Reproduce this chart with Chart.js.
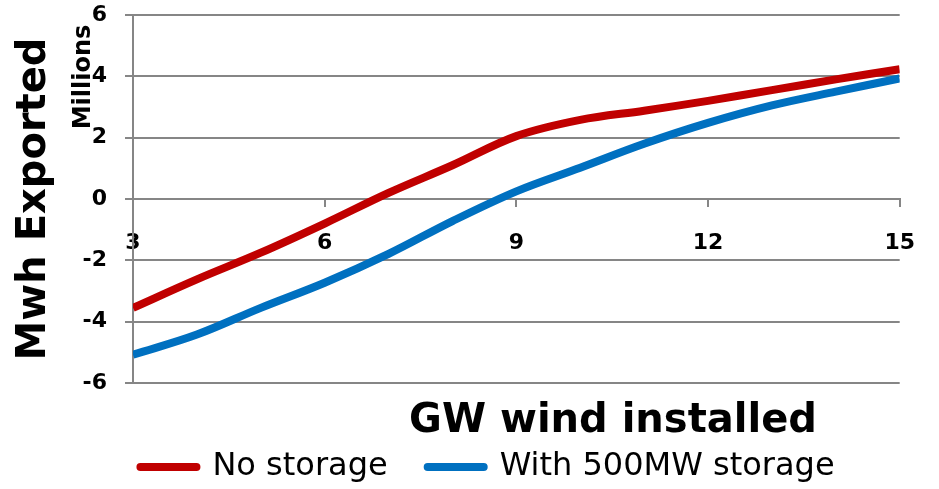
<!DOCTYPE html>
<html>
<head>
<meta charset="utf-8">
<title>Mwh Exported vs GW wind installed</title>
<script src="https://cdn.jsdelivr.net/npm/chart.js@4.4.1/dist/chart.umd.min.js"></script>
<style>
    html, body { margin: 0; padding: 0; background: #fff; }
    #wrap { width: 939px; height: 489px; position: relative; }
</style>
</head>
<body>
<div id="wrap"><canvas id="exportChart"></canvas></div>
<script>
// GW of wind installed (x)
const windGW = [3, 4, 5, 6, 7, 8, 9, 10, 11, 12, 13, 14, 15];
// MWh exported, in millions
const noStorage = [-3.55, -2.62, -1.75, -0.8, 0.2, 1.1, 2.05, 2.58, 2.88, 3.2, 3.55, 3.9, 4.23];
const withStorage = [-5.08, -4.42, -3.55, -2.73, -1.79, -0.72, 0.25, 1.02, 1.8, 2.48, 3.05, 3.5, 3.93];

const seriesNames = ['No storage', 'With 500MW storage'];
const xTicks = [3, 6, 9, 12, 15];
const yTicks = [-6, -4, -2, 0, 2, 4, 6];
const xTitle = 'GW wind installed';
const yTitle = 'Mwh Exported';
const unitsText = 'Millions';

const FONT = '"DejaVu Sans", "Noto Sans", sans-serif';
const GRID = '#868686';

// texts that Excel places freely: x title and the display-units label
const extraLabels = {
    id: 'extraLabels',
    afterDraw(chart) {
        const { ctx, chartArea } = chart;
        ctx.save();
        ctx.fillStyle = '#000';
        ctx.textAlign = 'center';
        ctx.textBaseline = 'middle';
        ctx.font = 'bold 40px ' + FONT;
        ctx.fillText(xTitle, 613, chartArea.bottom + 39);

        ctx.translate(chartArea.left - 49, chartArea.top + 62);
        ctx.rotate(-Math.PI / 2);
        ctx.font = 'bold 24px ' + FONT;
        ctx.fillText(unitsText, 0, 0);
        ctx.restore();
    }
};

const toPoints = ys => windGW.map((x, i) => ({ x: x, y: ys[i] }));

new Chart(document.getElementById('exportChart'), {
    type: 'line',
    data: {
        datasets: [{
            label: seriesNames[0],
            data: toPoints(noStorage),
            borderColor: '#C00000',
            backgroundColor: '#C00000',
            borderWidth: 8,
            pointRadius: 0,
            tension: 0.35,
            fill: false
        }, {
            label: seriesNames[1],
            data: toPoints(withStorage),
            borderColor: '#0070C0',
            backgroundColor: '#0070C0',
            borderWidth: 8,
            pointRadius: 0,
            tension: 0.35,
            fill: false
        }]
    },
    options: {
        responsive: true,
        maintainAspectRatio: false,
        animation: false,
        events: [],
        layout: {
            autoPadding: false,
            padding: { left: 52, right: 16, top: 15, bottom: -4 }
        },
        scales: {
            x: {
                type: 'linear',
                position: { y: 0 },
                min: 3,
                max: 15,
                afterBuildTicks: s => { s.ticks = xTicks.map(v => ({ value: v })); },
                grid: {
                    drawOnChartArea: false,
                    tickLength: 7,
                    color: GRID,
                    lineWidth: 2
                },
                border: { color: GRID, width: 2 },
                ticks: {
                    color: '#000',
                    padding: 24,
                    maxRotation: 0,
                    font: { family: FONT, size: 22, weight: 'bold' }
                }
            },
            y: {
                min: -6,
                max: 6,
                afterBuildTicks: s => { s.ticks = yTicks.map(v => ({ value: v })); },
                afterFit: s => {
                    s.width = 81;
                    // the end labels may stick out, like in Excel
                    s.paddingTop = 0;
                    s.paddingBottom = 0;
                },
                grid: {
                    tickLength: 8,
                    color: GRID,
                    lineWidth: 2
                },
                border: { color: GRID, width: 2 },
                ticks: {
                    color: '#000',
                    padding: 18,
                    font: { family: FONT, size: 22, weight: 'bold' }
                },
                title: {
                    display: true,
                    text: yTitle,
                    color: '#000',
                    padding: { top: -41 },
                    font: { family: FONT, size: 40, weight: 'bold' }
                }
            }
        },
        plugins: {
            tooltip: { enabled: false },
            legend: {
                position: 'bottom',
                title: {
                    display: true,
                    text: '',
                    padding: 0,
                    font: { size: 28, lineHeight: 1 }
                },
                labels: {
                    usePointStyle: true,
                    pointStyle: 'line',
                    pointStyleWidth: 56,
                    padding: 40,
                    color: '#000',
                    font: { family: FONT, size: 32 },
                    generateLabels(chart) {
                        const items = Chart.defaults.plugins.legend.labels.generateLabels(chart);
                        items.forEach(it => { it.lineCap = 'round'; });
                        return items;
                    }
                }
            }
        }
    },
    plugins: [extraLabels]
});
</script>
</body>
</html>
